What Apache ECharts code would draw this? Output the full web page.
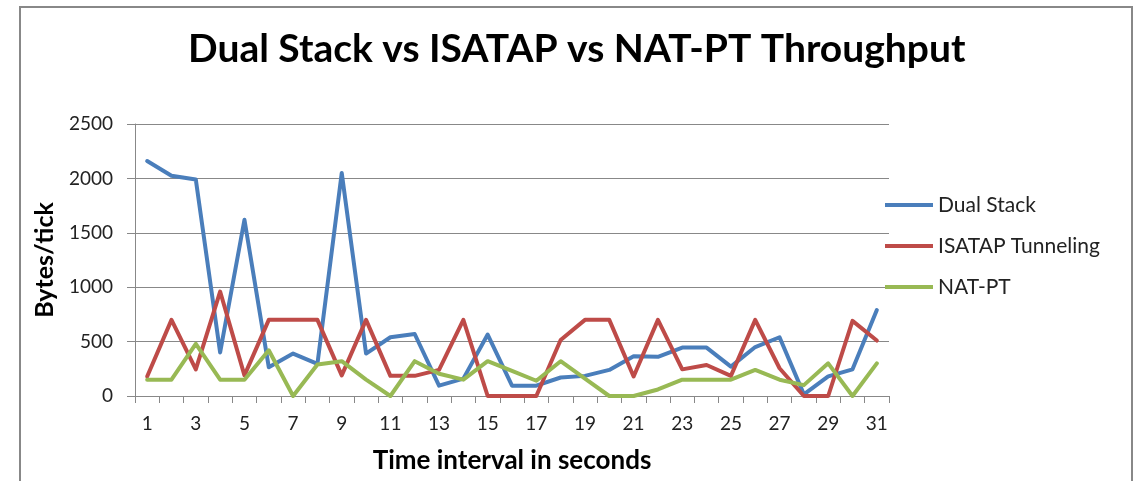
<!DOCTYPE html>
<html>
<head>
<meta charset="utf-8">
<script src="https://cdn.jsdelivr.net/npm/echarts@6/dist/echarts.min.js"></script>
<style>
html,body{margin:0;padding:0;background:#fff;}
#chart{width:1140px;height:481px;}
</style>
</head>
<body>
<div id="chart"></div>
<script>
var seconds = [];
for (var i = 1; i <= 31; i++) seconds.push(String(i));
var dualStack = [2160,2025,1990,400,1620,265,390,295,2050,390,540,570,95,160,565,95,95,170,185,240,365,360,445,445,270,450,540,15,180,245,790];
var isatap = [180,700,245,960,190,700,700,700,190,700,185,185,240,700,0,0,0,515,700,700,180,700,245,285,185,700,255,0,0,690,510];
var natpt = [150,150,480,150,150,420,0,290,320,150,0,320,205,150,320,230,140,320,160,0,0,60,150,150,150,240,150,100,300,0,300];
var seriesNames = ['Dual Stack', 'ISATAP Tunneling', 'NAT-PT'];
var colors = ['#4A7EBB', '#BE4B48', '#98B954'];

var chart = echarts.init(document.getElementById('chart'));
var font = 'Lato';
function line(name, data, color) {
    return {
        name: name,
        type: 'line',
        data: data,
        symbol: 'none',
        color: color,
        lineStyle: {width: 4, color: color, cap: 'round', join: 'round'},
        animation: false
    };
}
var option = {
    backgroundColor: '#fff',
    title: {
        text: 'Dual Stack vs ISATAP vs NAT-PT Throughput',
        left: 183,
        top: 25,
        textStyle: {fontFamily: font, fontWeight: 'bold', fontSize: 39, color: '#000'}
    },
    legend: {
        orient: 'vertical',
        left: 885,
        top: 194,
        padding: 0,
        icon: 'rect',
        itemWidth: 48,
        itemHeight: 4,
        itemGap: 19,
        textStyle: {fontFamily: font, fontSize: 21, color: '#222', lineHeight: 22},
        data: seriesNames
    },
    grid: {left: 135, right: 251, top: 124, bottom: 85},
    xAxis: {
        type: 'category',
        data: seconds,
        boundaryGap: true,
        name: 'Time interval in seconds',
        nameLocation: 'middle',
        nameGap: 52,
        nameTextStyle: {fontFamily: font, fontWeight: 'bold', fontSize: 26, color: '#000'},
        axisLine: {lineStyle: {color: '#888', width: 1}},
        axisTick: {show: true, interval: 0, length: 7, lineStyle: {color: '#888'}},
        axisLabel: {interval: 1, fontFamily: font, fontSize: 19, color: '#222', margin: 18}
    },
    yAxis: {
        type: 'value',
        min: 0,
        max: 2500,
        interval: 500,
        name: 'Bytes/tick',
        nameLocation: 'middle',
        nameRotate: 90,
        nameGap: 78,
        nameTextStyle: {fontFamily: font, fontWeight: 'bold', fontSize: 25, color: '#000'},
        axisLine: {show: true, lineStyle: {color: '#888', width: 1}},
        axisTick: {show: true, length: 8, lineStyle: {color: '#888'}},
        axisLabel: {fontFamily: font, fontSize: 19, color: '#222', margin: 22,
            formatter: function (v) { return String(v); }},
        splitLine: {lineStyle: {color: '#888', width: 1}}
    },
    graphic: [{
        type: 'rect',
        shape: {x: 20, y: 7, width: 1112, height: 490},
        style: {fill: 'none', stroke: '#888', lineWidth: 2},
        silent: true
    }],
    series: [
        line(seriesNames[0], dualStack, colors[0]),
        line(seriesNames[1], isatap, colors[1]),
        line(seriesNames[2], natpt, colors[2])
    ]
};
chart.setOption(option);
window.addEventListener('resize', function () {
    chart.resize();
});
</script>
</body>
</html>
